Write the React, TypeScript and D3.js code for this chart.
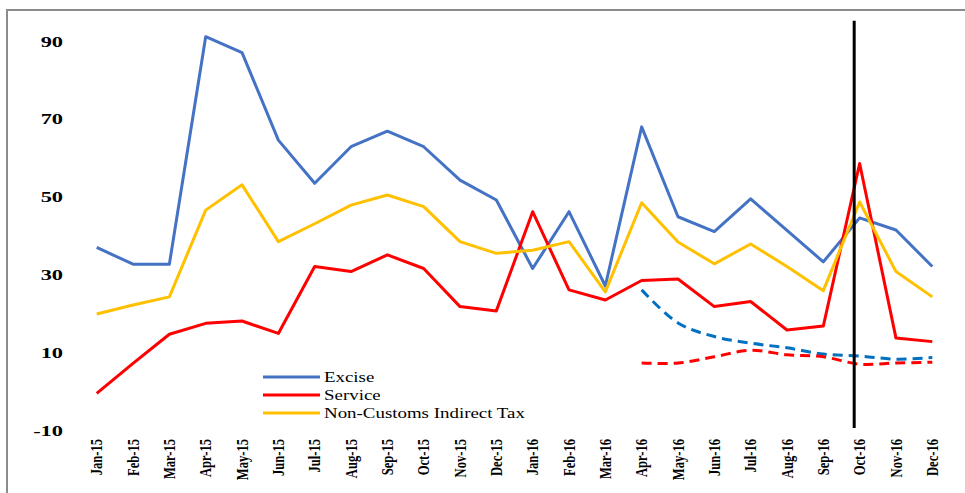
import React from "react";
import * as d3 from "d3";

const months = [
  "Jan-15", "Feb-15", "Mar-15", "Apr-15", "May-15", "Jun-15", "Jul-15", "Aug-15",
  "Sep-15", "Oct-15", "Nov-15", "Dec-15", "Jan-16", "Feb-16", "Mar-16", "Apr-16",
  "May-16", "Jun-16", "Jul-16", "Aug-16", "Sep-16", "Oct-16", "Nov-16", "Dec-16",
];

const excise = [37.1, 32.8, 32.8, 91.3, 87.2, 64.7, 53.6, 63, 67, 63, 54.4, 49.3,
  31.7, 46.3, 27.2, 68.1, 45, 41.2, 49.6, 41.5, 33.4, 44.7, 41.6, 32.2];
const service = [-0.4, 7.3, 14.8, 17.6, 18.2, 15, 32.2, 30.9, 35.2, 31.7, 21.9, 20.8,
  46.3, 26.2, 23.6, 28.6, 29, 21.9, 23.2, 15.9, 16.9, 58.7, 13.8, 12.9];
const nonCustoms = [20, 22.3, 24.4, 46.7, 53.2, 38.6, 43.2, 48, 50.6, 47.6, 38.6, 35.6,
  36.4, 38.6, 25.7, 48.6, 38.5, 32.9, 38, 32.2, 26, 48.8, 30.9, 24.4];

const trendMonths = ["Apr-16", "May-16", "Jun-16", "Jul-16", "Aug-16", "Sep-16", "Oct-16", "Nov-16", "Dec-16"];
const exciseTrend = [26.2, 17.7, 14.2, 12.5, 11.3, 9.7, 9.2, 8.4, 8.8];
const serviceTrend = [7.4, 7.4, 9.0, 10.7, 9.5, 9.0, 7.1, 7.4, 7.6];

const yTicks = [-10, 10, 30, 50, 70, 90];
const legendLabels = ["Excise", "Service", "Non-Customs Indirect Tax"];

const W = 965;
const H = 493;

export default function App() {
  const x = d3.scalePoint<string>().domain(months).range([96.7, 932.3]);
  const y = d3.scaleLinear().domain([-10, 90]).range([430.7, 41.7]);

  const solid = d3.line<number>().x((_, i) => x(months[i])!).y((d) => y(d));
  const smooth = d3
    .line<number>()
    .x((_, i) => x(trendMonths[i])!)
    .y((d) => y(d))
    .curve(d3.curveCatmullRom.alpha(0.5));

  const series = [
    { data: excise, color: "#4472C4" },
    { data: service, color: "#FF0000" },
    { data: nonCustoms, color: "#FFC000" },
  ];

  // separator between Sep-16 and Oct-16
  const sepX = x("Sep-16")! + (x("Oct-16")! - x("Sep-16")!) * 0.85;

  const legendY = [377, 395, 413];

  return (
    <svg
      width={W}
      height={H}
      style={{ position: "absolute", left: 0, top: 0, background: "#fff" }}
      fontFamily="'Liberation Serif', 'Times New Roman', serif"
    >
      <rect x={0} y={0} width={W} height={H} fill="#fff" />
      <rect x={7} y={10} width={1100} height={700} fill="none" stroke="#8c8c8c" strokeWidth={2} />

      {yTicks.map((t) => (
        <text
          key={t}
          transform={`translate(63,${y(t)}) scale(1.6,1)`}
          textAnchor="end"
          dominantBaseline="central"
          fontSize={14}
          fontWeight="bold"
          fill="#000"
        >
          {t}
        </text>
      ))}

      {months.map((m) => (
        <text
          key={m}
          transform={`translate(${x(m)},439) rotate(-90) scale(0.9,1.2)`}
          textAnchor="end"
          dominantBaseline="central"
          fontSize={14}
          fontWeight="bold"
          fill="#000"
        >
          {m}
        </text>
      ))}

      <path d={smooth(exciseTrend)!} fill="none" stroke="#0070C0" strokeWidth={3} strokeDasharray="10,6" />
      <path d={smooth(serviceTrend)!} fill="none" stroke="#FF0000" strokeWidth={3} strokeDasharray="10,6" />

      {series.map((s, i) => (
        <path key={i} d={solid(s.data)!} fill="none" stroke={s.color} strokeWidth={3} strokeLinejoin="round" />
      ))}

      <line x1={sepX} x2={sepX} y1={y(95.4)} y2={y(-9.3)} stroke="#000" strokeWidth={3} />

      {legendLabels.map((l, i) => (
        <g key={l}>
          <line x1={263} x2={320} y1={legendY[i]} y2={legendY[i]} stroke={series[i].color} strokeWidth={3} />
          <text
            transform={`translate(324,${legendY[i]}) scale(1.35,1)`}
            dominantBaseline="central"
            fontSize={14}
            fill="#000"
          >
            {l}
          </text>
        </g>
      ))}
    </svg>
  );
}
